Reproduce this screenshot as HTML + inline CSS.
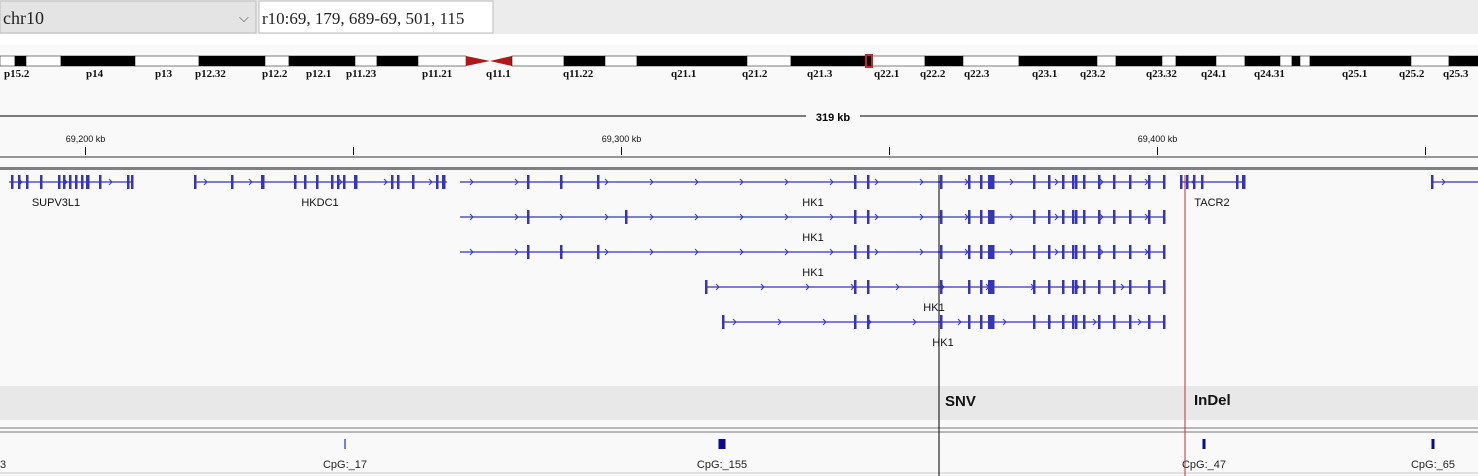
<!DOCTYPE html>
<html><head><meta charset="utf-8"><style>
body{margin:0;width:1478px;height:476px;overflow:hidden;background:#f9f9f9;font-family:"Liberation Sans",sans-serif}
svg{display:block}
</style></head><body>
<svg id="c" width="1478" height="476" xmlns="http://www.w3.org/2000/svg">
<rect x="0" y="0" width="1478" height="34" fill="#ececec"/>
<rect x="0" y="1" width="256" height="32" fill="#e4e4e4" stroke="#bdbdbd"/>
<text x="3" y="24" font-family="Liberation Serif,serif" font-size="18" fill="#222">chr10</text>
<text x="239" y="22" font-size="13" fill="#555">⌵</text>
<rect x="259" y="1" width="234" height="32" fill="#fff" stroke="#bdbdbd"/>
<text x="262" y="24" font-family="Liberation Serif,serif" font-size="17" fill="#222">r10:69, 179, 689-69, 501, 115</text>
<rect x="0" y="34" width="1478" height="11" fill="#fff"/>
<g id="ideo"></g>
<g id="ruler"></g>
<line x1="0" y1="157" x2="1478" y2="157" stroke="#333" stroke-width="1"/>
<rect x="0" y="167" width="1478" height="3" fill="#808080"/>
<g id="genes"></g>
<rect x="0" y="386" width="1478" height="34" fill="#e8e8e8"/>
<line x1="0" y1="428" x2="1478" y2="428" stroke="#777"/>
<line x1="0" y1="432" x2="1478" y2="432" stroke="#777"/>
<line x1="0" y1="473" x2="1478" y2="473" stroke="#ccc"/>
<g id="cpg"></g>
<line x1="939" y1="175" x2="939" y2="476" stroke="#000"/>
<line x1="1185" y1="175" x2="1185" y2="476" stroke="#c03030"/>
<text x="945" y="406" font-size="15" font-weight="bold" fill="#111">SNV</text>
<text x="1194" y="405" font-size="15" font-weight="bold" fill="#111">InDel</text>
</svg>
<script>
const NS="http://www.w3.org/2000/svg";
const bandEdges=[0,15,26,61,135,199,265,289,355,377,418,466,512,564,605,637,747,791,872,925,963,1019,1097,1116,1162,1176,1216,1245,1280,1292,1300,1310,1411,1449,1478];
const bandColors=["w","k","w","k","w","k","w","k","w","k","w","c","w","k","w","k","w","k","w","k","w","k","w","k","w","k","w","k","w","k","w","k","w","k"];
const bandLabels=["p15.2","p14","p13","p12.32","p12.2","p12.1","p11.23","p11.21","q11.1","q11.22","q21.1","q21.2","q21.3","q22.1","q22.2","q22.3","q23.1","q23.2","q23.32","q24.1","q24.31","q25.1","q25.2","q25.3"];
const bandLabelX=[4,86,155,195,262,306,346,422,486,563,671,742,807,874,920,964,1032,1080,1146,1201,1254,1342,1399,1443];
const tickKb=[69200,69250,69300,69350,69400,69450];
const tickLabels=["69,200 kb","","69,300 kb","","69,400 kb",""];
const kbStart=69184.2, pxPerKb=268/50;
const xs=kb=>(kb-kbStart)*pxPerKb;
function el(t,a,p){const e=document.createElementNS(NS,t);for(const k in a)e.setAttribute(k,a[k]);(p||svg).appendChild(e);return e;}
const svg=document.getElementById('c');
const ideo=document.getElementById('ideo');
for(let i=0;i<bandColors.length;i++){
 const x0=bandEdges[i],x1=bandEdges[i+1];
 if(bandColors[i]==="c"){
  const p=el('polygon',{points:`${x0},56 ${x0+24},61 ${x0},66`,fill:'#b01818'},ideo);
  
  
  const q=el('polygon',{points:`${x1},56 ${x1-22},61 ${x1},66`,fill:'#b01818'},ideo);
  
  
 } else {
  const r=el('rect',{x:x0,y:56,width:x1-x0,height:10,fill:bandColors[i]==="k"?'#000':'#fff',stroke:'#000','stroke-width':0.5},ideo);
  
  
 }
}
const sel=el('rect',{x:866,y:55,width:6,height:12,fill:'none',stroke:'#d02020','stroke-width':2},ideo);


bandLabels.forEach((l,i)=>{const t=el('text',{x:bandLabelX[i],y:77,'font-family':'Liberation Serif,serif','font-size':11,'font-weight':'bold',fill:'#111'},ideo);t.textContent=l;
 
 });
const ruler=document.getElementById('ruler');
el('line',{x1:0,y1:116,x2:1478,y2:116,stroke:'#000'},ruler);
el('rect',{x:806,y:108,width:54,height:16,fill:'#f9f9f9'},ruler);
const span=el('text',{x:833,y:121,'font-size':11,'font-weight':'bold','text-anchor':'middle'},ruler);span.textContent="319 kb";


tickKb.forEach((k,i)=>{const x=Math.round(xs(k))+0.5;el('line',{x1:x,y1:147,x2:x,y2:155,stroke:'#000'},ruler);
 if(tickLabels[i]){const t=el('text',{x:x,y:142,'font-size':9,'text-anchor':'middle',fill:'#111'},ruler);t.textContent=tickLabels[i];
 
 }});
const hkTail=[855,868,941,969,981,989,991,993,1034,1049,1063,1073,1076,1084,1099,1114,1130,1149,1164];
const genes=[
 [0,9,133,1,"SUPV3L1",56,[12,19,27,41,59,64,70,76,82,87,88,100,128,132]],
 [0,194,447,1,"HKDC1",320,[195,232,262,263,295,305,317,332,338,344,355,356,392,398,413,437,443,444]],
 [0,460,1165,1,"HK1",813,[528,561,598].concat(hkTail)],
 [1,460,1165,1,"HK1",813,[528,626].concat(hkTail)],
 [2,460,1165,1,"HK1",813,[528,561,598].concat(hkTail)],
 [3,706,1165,1,"HK1",934,[706].concat(hkTail)],
 [4,723,1165,1,"HK1",943,[723].concat(hkTail)],
 [0,1181,1245,-1,"TACR2",1212,[1181,1187,1194,1202,1237,1243,1244]],
 [0,1432,1478,1,"",0,[1432]]
];
const rowY=[182,217,252,287,322];
const g=document.getElementById('genes');
const C='#3535b5';
genes.forEach(d=>{
 const y=rowY[d[0]];
 const ln=el('line',{x1:d[1],y1:y,x2:d[2],y2:y,stroke:C,'stroke-width':1.2},g);
 
 
 for(let x=d[1]+12;x<d[2]-8;x+=45){
  const s=d[3]>0?`${x-2},${y-3} ${x+1},${y} ${x-2},${y+3}`:`${x+2},${y-3} ${x-1},${y} ${x+2},${y+3}`;
  el('polyline',{points:s,fill:'none',stroke:C,'stroke-width':1},g);
 }
 d[6].forEach(x=>{const r=el('rect',{x:x-1,y:y-7,width:2.5,height:14,fill:C},g);
  
  });
 if(d[4]){const t=el('text',{x:d[5],y:y+24,'font-size':11,'text-anchor':'middle',fill:'#111'},g);t.textContent=d[4];
  
  }
});
const cpgNames=["3","CpG:_17","CpG:_155","CpG:_47","CpG:_65"];
const cpgX=[-2,345,722,1204,1433];
const cpgW=[0,1,7,3,3];
const cg=document.getElementById('cpg');
cpgNames.forEach((n,i)=>{
 if(cpgW[i]>0){const r=el('rect',{x:cpgX[i]-cpgW[i]/2,y:439,width:cpgW[i],height:10,fill:'#0a0a8a'},cg);
  
  }
 const t=el('text',{x:i===0?0:cpgX[i],y:468,'font-size':11,'text-anchor':i===0?'start':'middle',fill:'#222'},cg);t.textContent=n;
 
 
});
</script>
</body></html>
